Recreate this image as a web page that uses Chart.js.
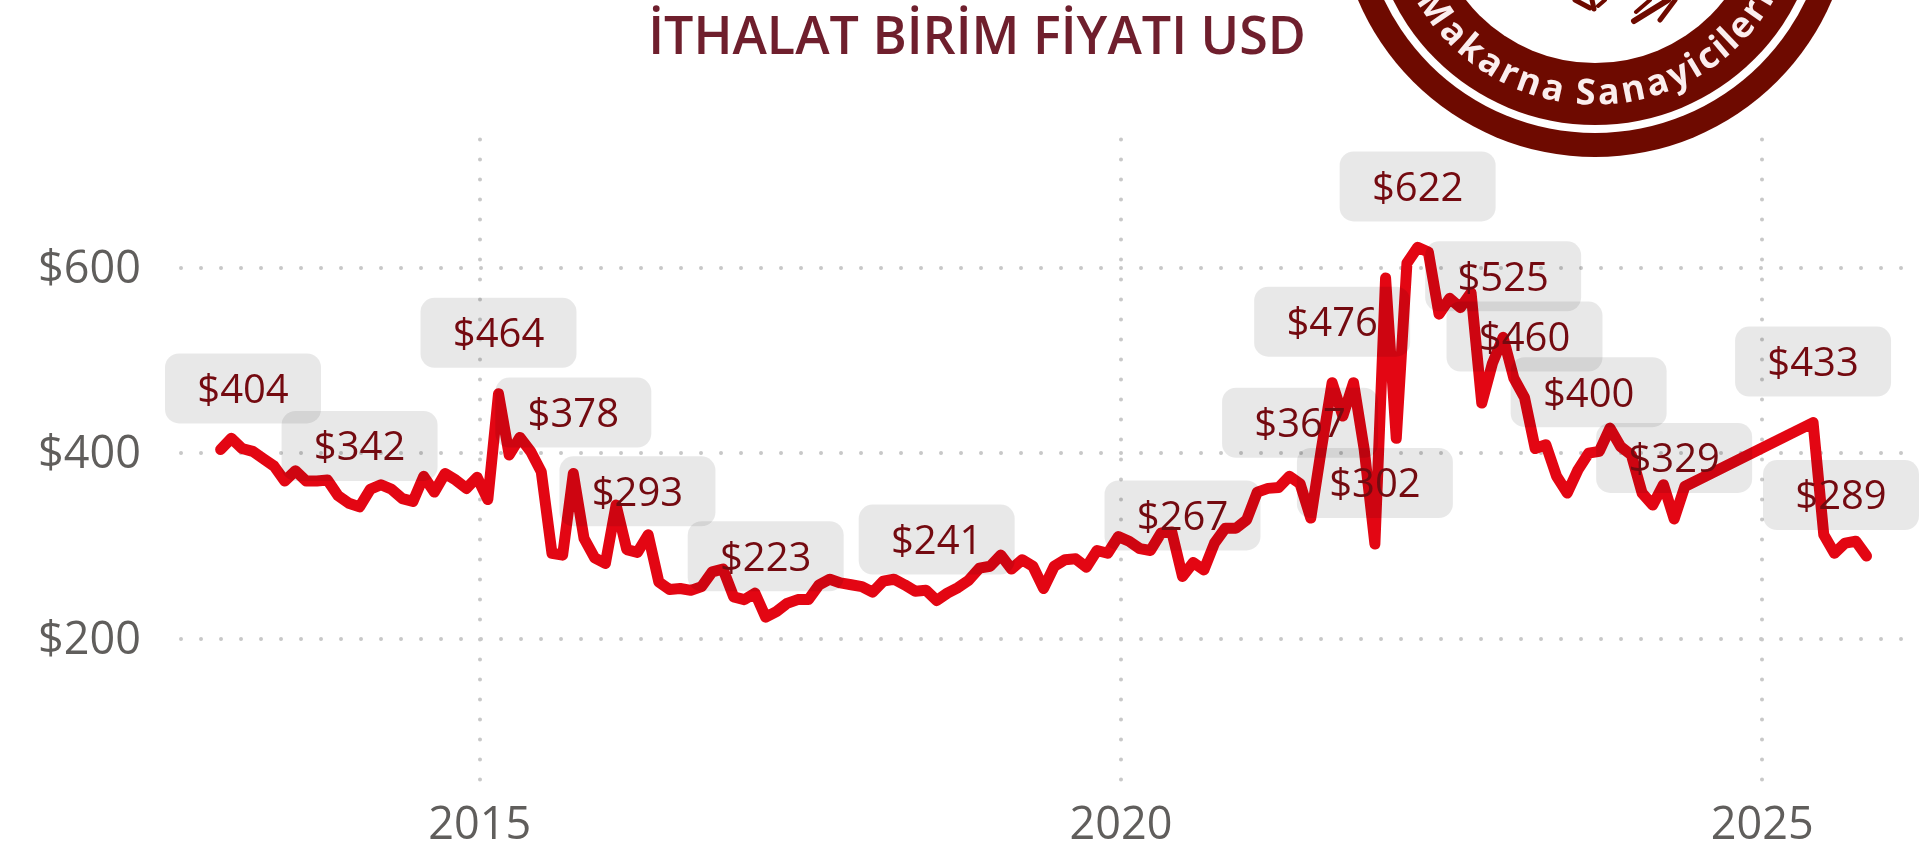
<!DOCTYPE html>
<html lang="tr">
<head>
<meta charset="utf-8">
<title>İthalat Birim Fiyatı USD</title>
<script src="https://cdn.jsdelivr.net/npm/chart.js@4"></script>
<style>
html,body{margin:0;padding:0;background:#fff;overflow:hidden}
#wrap{position:relative;width:1924px;height:860px}
</style>
</head>
<body>
<div id="wrap"><canvas id="c" width="1924" height="860"></canvas></div>
<script>
const chartTitle = 'İTHALAT BİRİM FİYATI USD';
const sealText = 'Makarna Sanayicileri';
const firstYear = 2012.98;
const yearTicks = [2015, 2020, 2025];
const priceTicks = [200, 400, 600];
// monthly unit price in USD, January 2013 onward; null = no reading
const prices2013 = [404,416,405,402,394,386,370,381,370,370,371,354];
const prices2014 = [346,342,361,366,361,351,348,375,358,378,371,362];
const prices2015 = [374,350,464,398,417,402,380,292,290,378,308,287];
const prices2016 = [281,344,296,293,312,261,253,254,252,256,272,275];
const prices2017 = [245,242,249,223,229,238,242,242,258,264,260,258];
const prices2018 = [256,250,262,264,258,251,252,241,249,255,263,276];
const prices2019 = [278,290,275,285,278,254,278,285,286,277,295,292];
const prices2020 = [310,305,297,295,314,315,267,282,274,303,319,319];
const prices2021 = [328,358,362,363,375,367,330,405,476,440,476,404];
const prices2022 = [302,589,416,605,622,617,550,567,557,573,454,497];
const prices2023 = [525,481,460,405,409,375,357,382,400,402,427,407];
const prices2024 = [398,357,344,366,329,364,null,null,null,null,null,null];
const prices2025 = [null,null,null,null,null,433,312,292,303,305,289];
const labelledMonths = [0,13,26,33,39,51,67,90,101,104,108,112,120,122,128,136,149,154];

const prices = [].concat(prices2013,prices2014,prices2015,prices2016,prices2017,prices2018,
                         prices2019,prices2020,prices2021,prices2022,prices2023,prices2024,prices2025);
const points = prices.map((v,i)=>({x:firstYear+i/12,y:v}));

const sealPlugin = {
  id:'seal',
  afterLayout(chart){
    // centre the title where the reference has it
    if(chart.titleBlock){chart.titleBlock.left+=26;chart.titleBlock.right+=26;}
  },
  beforeDraw(chart){
    const c = chart.ctx;
    c.lineCap = 'round';
    c.save();
    const cx=1595, cy=-100.4, dark='#6e0a00';
    const ring=(r,col)=>{c.beginPath();c.arc(cx,cy,r,0,Math.PI*2);c.fillStyle=col;c.fill();};
    ring(257.4,dark); ring(233.5,'#ffffff'); ring(225.5,dark); ring(163.5,'#ffffff');
    c.strokeStyle=dark; c.lineCap='round';
    [[1592,0,1594,9,5],[1668,0,1634,21,6],[1675,0,1660,20,5],[1650,0,1636,12,4],
     [1605,0,1598,6,4],[1575,0,1590,8,5]].forEach(s=>{
      c.lineWidth=s[4];c.beginPath();c.moveTo(s[0],s[1]);c.lineTo(s[2],s[3]);c.stroke();});
    c.font='bold 36px "Open Sans"';
    c.fillStyle='#fbeeee'; c.textAlign='left'; c.textBaseline='alphabetic';
    const R=205, spread=1.16;
    const total=c.measureText(sealText).width*spread;
    let a=-total/R/2;
    for(const ch of sealText){
      const w=c.measureText(ch).width*spread;
      c.save();
      c.translate(cx+Math.sin(a+w/R/2)*R,cy+Math.cos(a+w/R/2)*R);
      c.rotate(-(a+w/R/2));
      c.fillText(ch,-c.measureText(ch).width/2,0);
      c.restore();
      a+=w/R;
    }
    c.restore();
  }
};

const badgePlugin = {
  id:'badges',
  afterDatasetsDraw(chart){
    const c=chart.ctx, xs=chart.scales.x, ys=chart.scales.y;
    const w=156,h=70,minX=165,maxX=1919,rise=61;
    c.save();
    labelledMonths.forEach(i=>{
      const p=points[i];
      let bx=xs.getPixelForValue(p.x)-w/2;
      bx=Math.max(minX,Math.min(maxX-w,bx));
      const by=ys.getPixelForValue(p.y)-rise-h/2;
      c.beginPath();c.roundRect(bx,by,w,h,14);
      c.fillStyle='rgba(0,0,0,0.09)';c.fill();
      c.fillStyle='#740a10';
      c.font='40px "Open Sans"';c.textAlign='center';c.textBaseline='middle';
      c.fillText('$'+p.y,bx+w/2,by+h/2+3);
    });
    c.restore();
  }
};

new Chart(document.getElementById('c'),{
  type:'line',
  data:{datasets:[{data:points,borderColor:'#e30613',borderWidth:11,tension:0,spanGaps:true,
    pointRadius:0,borderCapStyle:'round',borderJoinStyle:'round',fill:false}]},
  plugins:[sealPlugin,badgePlugin],
  options:{
    responsive:false,animation:false,events:[],
    layout:{padding:{left:0,right:22,top:0,bottom:0}},
    plugins:{
      legend:{display:false},tooltip:{enabled:false},
      title:{display:true,text:chartTitle,color:'#6f1f2d',
        font:{family:'"Open Sans"',size:52,weight:'600',lineHeight:1.2},
        padding:{top:8,bottom:69}}
    },
    scales:{
      x:{type:'linear',min:2012.671,max:2026.09,
        afterBuildTicks(s){s.ticks=yearTicks.map(v=>({value:v}));},
        afterFit(s){s.height=75;},
        ticks:{color:'#605e5c',padding:14,font:{family:'"Open Sans"',size:45},maxRotation:0,
          callback:v=>String(v)},
        grid:{color:'#c8c8c8',lineWidth:4,drawTicks:false},
        border:{display:false,dash:[0.01,19.99]}},
      y:{min:42,max:738.5,
        afterBuildTicks(s){s.ticks=priceTicks.map(v=>({value:v}));},
        afterFit(s){s.width=181;},
        ticks:{color:'#605e5c',padding:40,labelOffset:2.5,font:{family:'"Open Sans"',size:45},
          callback:v=>'$'+v},
        grid:{color:'#c8c8c8',lineWidth:4,drawTicks:false},
        border:{display:false,dash:[0.01,19.99]}}
    }
  }
});
</script>
</body>
</html>
